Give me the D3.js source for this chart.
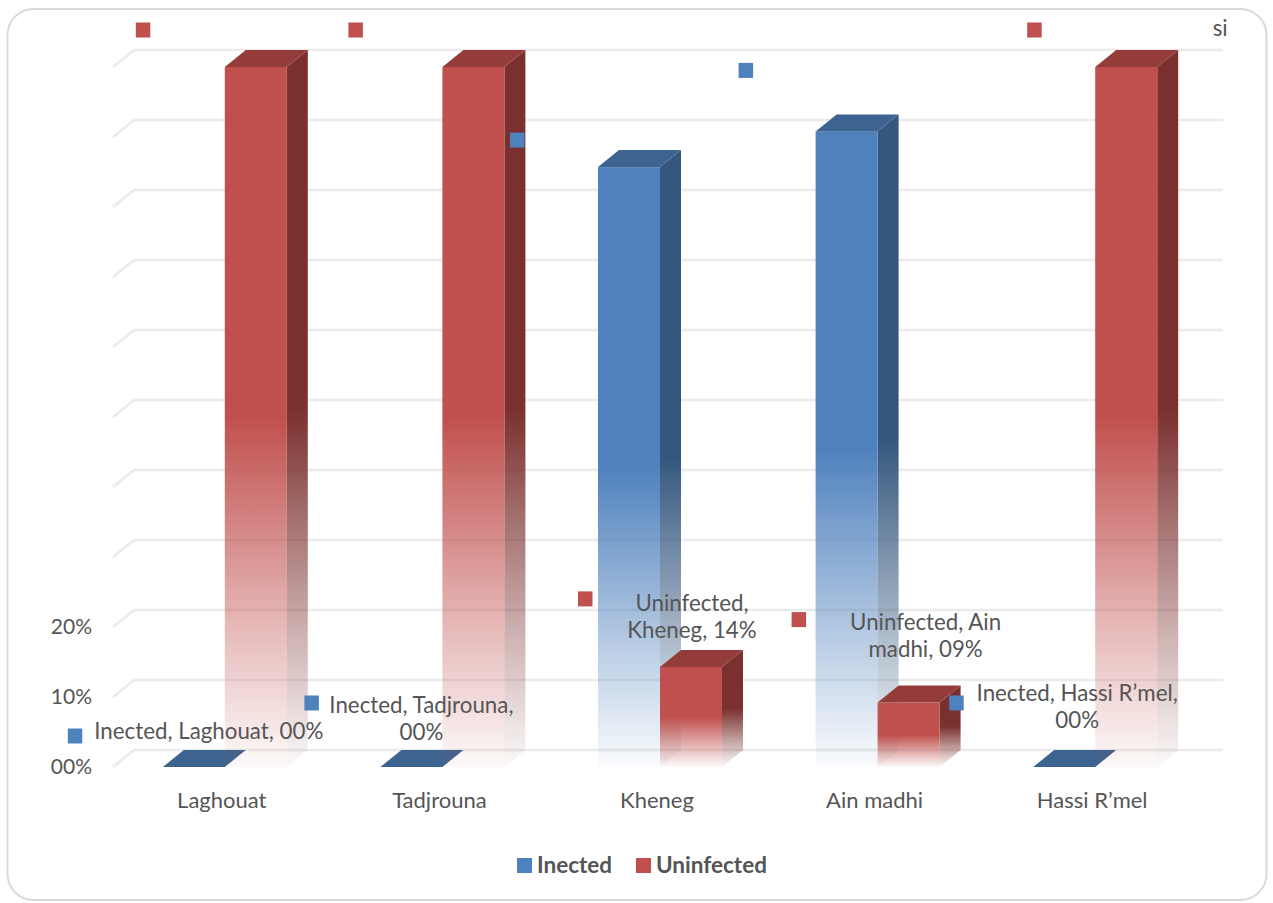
<!DOCTYPE html>
<html>
<head>
<meta charset="utf-8">
<script src="https://cdn.jsdelivr.net/npm/d3@7"></script>
<style>
  body { margin: 0; background: #fff; }
  svg text { font-family: Lato, "Open Sans", sans-serif; fill: #555555; }
</style>
</head>
<body>
<div id="chart"></div>
<script>
// data
const categories = ["Laghouat", "Tadjrouna", "Kheneg", "Ain madhi", "Hassi R’mel"]
const seriesNames = ["Inected", "Uninfected"]
const infected = [0, 0, 85.7, 90.8, 0]
const uninfected = [100, 100, 14.3, 9.2, 100]
const yTicks = [0, 10, 20, 30, 40, 50, 60, 70, 80, 90, 100]
const yTickLabels = ["00%", "10%", "20%", "", "", "", "", "", "", "", ""]

// data labels (series index, category index, text lines)
const labelSeries = [0, 0, 1, 1, 0, 1, 1, 0, 0, 1]
const labelCats = [0, 1, 2, 3, 4, 0, 1, 2, 3, 4]
const labelLines = [
    ["Inected, Laghouat, 00%"],
    ["Inected, Tadjrouna,", "00%"],
    ["Uninfected,", "Kheneg, 14%"],
    ["Uninfected, Ain", "madhi, 09%"],
    ["Inected, Hassi R’mel,", "00%"],
    [], [], [], [],
    ["si"]
]

// label placement relative to the top centre of the bar front face
const labelOffsets = [
    {dx: 15, dy: -28, mx: -119, my: -31},
    {dx: 10, dy: -54, mx: -100, my: -64},
    {dx: 1, dy: -56, mx: -106, my: -68},
    {dx: 17, dy: -73, mx: -110, my: -83},
    {dx: 13, dy: -66, mx: -108, my: -64},
    {dx: 0, dy: 0, mx: -113, my: -37},
    {dx: 0, dy: 0, mx: -118, my: -37},
    {dx: 0, dy: 0, mx: -112, my: -27},
    {dx: 0, dy: 0, mx: -101, my: -61},
    {dx: 94, dy: -31, mx: -92, my: -37}
]

const colors = {
    front: ["#4f81bd", "#c0504d"],
    side: ["#35577e", "#7a302e"],
    top: ["#3d6390", "#943c3a"]
}

const width = 1273
const height = 903
const depthX = 21
const depthY = 17
const barW = 62

const svg = d3.select("#chart").append("svg")
    .attr("width", width)
    .attr("height", height)

// outer frame
svg.append("rect")
    .attr("x", 7.5).attr("y", 9)
    .attr("width", 1259).attr("height", 891)
    .attr("rx", 26)
    .attr("fill", "#fff")
    .attr("stroke", "#d9d9d9")
    .attr("stroke-width", 2)

// scales: x is the front edge of the floor, y is the back wall
const x = d3.scaleBand().domain(categories).range([113, 1201])
const y = d3.scaleLinear().domain([0, 100]).range([750, 50])
const yFront = v => y(v) + depthY

// gradients: solid at the top, fading out towards the floor
const defs = svg.append("defs")
;["front", "side"].forEach(face => {
    [0, 1].forEach(s => {
        const g = defs.append("linearGradient")
            .attr("id", `g-${face}-${s}`)
            .attr("x1", 0).attr("y1", 0).attr("x2", 0).attr("y2", 1)
        g.append("stop").attr("offset", 0).attr("stop-color", colors[face][s]).attr("stop-opacity", 1)
        g.append("stop").attr("offset", 0.5).attr("stop-color", colors[face][s]).attr("stop-opacity", 1)
        g.append("stop").attr("offset", 0.8).attr("stop-color", colors[face][s]).attr("stop-opacity", 0.4)
        g.append("stop").attr("offset", 1).attr("stop-color", colors[face][s]).attr("stop-opacity", 0.03)
    })
})

// gridlines on the back wall plus the short diagonal on the left side wall
const grid = svg.append("g")
grid.selectAll(".hgrid").data(yTicks).join("line")
    .attr("x1", x.range()[0] + depthX).attr("x2", x.range()[1] + depthX + 1)
    .attr("y1", d => y(d)).attr("y2", d => y(d))
    .attr("stroke", "#ebebeb").attr("stroke-width", 2.5)
grid.selectAll(".dgrid").data(yTicks).join("line")
    .attr("x1", x.range()[0]).attr("y1", d => yFront(d))
    .attr("x2", x.range()[0] + depthX).attr("y2", d => y(d))
    .attr("stroke", "#ebebeb").attr("stroke-width", 2.5)

// y tick labels
svg.append("g").selectAll("text").data(yTicks).join("text")
    .attr("x", 92)
    .attr("y", d => yFront(d))
    .attr("dy", "0.35em")
    .attr("text-anchor", "end")
    .style("font-size", "21px")
    .text((d, i) => yTickLabels[i])

// bar geometry helpers
const values = [infected, uninfected]
const barX = (c, s) => x(categories[c]) + x.bandwidth() / 2 + 3 + (s === 0 ? -barW : 0)

const bars = svg.append("g")
categories.forEach((cat, c) => {
    [0, 1].forEach(s => {
        const v = values[s][c]
        const x0 = barX(c, s)
        const top = yFront(v)
        const bottom = yFront(0)
        const g = bars.append("g")
        if(v > 0) {
            g.append("polygon")
                .attr("points", [[x0 + barW, top], [x0 + barW + depthX, top - depthY],
                    [x0 + barW + depthX, bottom - depthY], [x0 + barW, bottom]].join(" "))
                .attr("fill", `url(#g-side-${s})`)
            g.append("rect")
                .attr("x", x0).attr("y", top)
                .attr("width", barW).attr("height", bottom - top)
                .attr("fill", `url(#g-front-${s})`)
        }
        g.append("polygon")
            .attr("points", [[x0, top], [x0 + depthX, top - depthY],
                [x0 + barW + depthX, top - depthY], [x0 + barW, top]].join(" "))
            .attr("fill", colors.top[s])
    })
})

// category labels
svg.append("g").selectAll("text").data(categories).join("text")
    .attr("x", d => x(d) + x.bandwidth() / 2)
    .attr("y", 808)
    .attr("text-anchor", "middle")
    .style("font-size", "22px")
    .text(d => d)

// data labels with their legend keys
const labels = svg.append("g")
labelLines.forEach((lines, i) => {
    const s = labelSeries[i]
    const c = labelCats[i]
    const off = labelOffsets[i]
    const cx = barX(c, s) + barW / 2
    const top = yFront(values[s][c])
    labels.append("rect")
        .attr("x", cx + off.mx - 7).attr("y", top + off.my - 7.5)
        .attr("width", 14.5).attr("height", 15)
        .attr("fill", colors.front[s])
    const t = labels.append("text")
        .attr("text-anchor", "middle")
        .style("font-size", "22.3px")
    lines.forEach((line, k) => {
        t.append("tspan")
            .attr("x", cx + off.dx)
            .attr("y", top + off.dy + k * 27)
            .text(line)
    })
})

// legend
const legend = svg.append("g")
const legendX = [517, 636]
seriesNames.forEach((name, s) => {
    legend.append("rect")
        .attr("x", legendX[s]).attr("y", 858)
        .attr("width", 15).attr("height", 15)
        .attr("fill", colors.front[s])
    legend.append("text")
        .attr("x", legendX[s] + 20).attr("y", 873)
        .style("font-size", "22.5px")
        .style("font-weight", "bold")
        .text(name)
})
</script>
</body>
</html>
